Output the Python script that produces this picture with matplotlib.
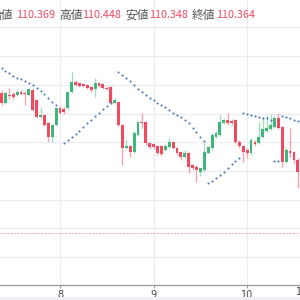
import numpy as np
import matplotlib
matplotlib.use('Agg')
import matplotlib.pyplot as plt
from matplotlib.patches import Rectangle

# hourly candles, index 0 = first visible candle, day 8 starts at index 15
opens = [110.571, 110.537, 110.564, 110.568, 110.564, 110.575, 110.571, 110.564, 110.582, 110.547,
         110.488, 110.495, 110.467, 110.418, 110.460, 110.519, 110.516, 110.519, 110.575, 110.610,
         110.606, 110.603, 110.599, 110.592, 110.585, 110.606, 110.603, 110.589, 110.592, 110.537,
         110.540, 110.460, 110.380, 110.387, 110.366, 110.425, 110.470, 110.470, 110.397, 110.394,
         110.387, 110.387, 110.373, 110.383, 110.401, 110.380, 110.366, 110.348, 110.362, 110.321,
         110.314, 110.296, 110.303, 110.362, 110.380, 110.418, 110.425, 110.467, 110.477, 110.474,
         110.477, 110.401, 110.387, 110.373, 110.362, 110.401, 110.397, 110.418, 110.439, 110.446,
         110.453, 110.484, 110.453, 110.331, 110.369, 110.366, 110.338]
closes = [110.537, 110.571, 110.561, 110.557, 110.575, 110.568, 110.568, 110.585, 110.512, 110.488,
          110.495, 110.460, 110.418, 110.460, 110.519, 110.502, 110.505, 110.575, 110.610, 110.599,
          110.596, 110.596, 110.589, 110.582, 110.606, 110.596, 110.589, 110.585, 110.537, 110.547,
          110.460, 110.380, 110.387, 110.366, 110.432, 110.470, 110.467, 110.397, 110.383, 110.383,
          110.362, 110.359, 110.387, 110.401, 110.380, 110.362, 110.348, 110.362, 110.314, 110.310,
          110.303, 110.310, 110.366, 110.383, 110.425, 110.432, 110.470, 110.477, 110.467, 110.467,
          110.401, 110.387, 110.366, 110.362, 110.408, 110.394, 110.418, 110.446, 110.450, 110.460,
          110.484, 110.450, 110.331, 110.373, 110.364, 110.338, 110.296]
highs = [110.582, 110.578, 110.589, 110.575, 110.582, 110.582, 110.578, 110.589, 110.585, 110.550,
         110.523, 110.498, 110.470, 110.463, 110.523, 110.526, 110.523, 110.578, 110.645, 110.617,
         110.610, 110.606, 110.603, 110.596, 110.624, 110.610, 110.606, 110.596, 110.596, 110.554,
         110.544, 110.463, 110.408, 110.390, 110.439, 110.474, 110.502, 110.474, 110.401, 110.397,
         110.390, 110.390, 110.394, 110.415, 110.404, 110.383, 110.369, 110.373, 110.366, 110.324,
         110.321, 110.314, 110.397, 110.387, 110.432, 110.439, 110.495, 110.484, 110.502, 110.481,
         110.481, 110.408, 110.390, 110.380, 110.415, 110.408, 110.470, 110.488, 110.495, 110.498,
         110.491, 110.502, 110.457, 110.380, 110.448, 110.369, 110.345]
lows = [110.530, 110.533, 110.550, 110.550, 110.561, 110.564, 110.530, 110.561, 110.509, 110.484,
        110.484, 110.457, 110.401, 110.401, 110.457, 110.498, 110.498, 110.512, 110.571, 110.596,
        110.592, 110.592, 110.585, 110.575, 110.557, 110.592, 110.585, 110.582, 110.533, 110.533,
        110.457, 110.321, 110.376, 110.348, 110.362, 110.422, 110.450, 110.390, 110.376, 110.376,
        110.355, 110.352, 110.369, 110.380, 110.376, 110.355, 110.338, 110.345, 110.293, 110.303,
        110.261, 110.282, 110.296, 110.359, 110.373, 110.415, 110.422, 110.463, 110.460, 110.460,
        110.394, 110.380, 110.331, 110.345, 110.355, 110.387, 110.394, 110.415, 110.436, 110.443,
        110.450, 110.446, 110.314, 110.328, 110.348, 110.328, 110.241]

nan = np.nan
sar = [110.659, 110.648, 110.641, 110.632, 110.625, 110.620, 110.613, 110.606, 110.599, 110.589,
       110.578, 110.568, 110.554, 110.540, 110.530, nan, 110.397, 110.408, 110.418, 110.429,
       110.439, 110.453, 110.467, 110.477, 110.491, 110.502, 110.516, 110.526, 110.537, nan,
       110.645, 110.634, 110.624, 110.613, 110.599, 110.585, 110.575, 110.564, 110.554, 110.547,
       110.537, 110.530, 110.523, 110.512, 110.502, 110.495, 110.488, 110.477, 110.467, 110.450,
       110.436, 110.418, 110.404, 110.258, 110.265, 110.275, 110.286, 110.296, 110.310, 110.324,
       110.334, 110.345, 110.502, 110.498, 110.495, 110.491, 110.488, 110.486, 110.483, 110.479,
       110.334, 110.334, 110.493, 110.488, 110.484, 110.479, 110.474]

day_ticks = [15, 39, 63]
day_labels = ['8', '9', '10']
last_price = 110.084

header_labels = ['始値', '高値', '安値', '終値']
header_values = ['110.369', '110.448', '110.348', '110.364']

up_body, up_wick = '#40b77a', '#a6dbbf'
dn_body, dn_wick = '#ee4b61', '#f5a5b1'

fig = plt.figure(figsize=(3, 3), dpi=100)
ax = fig.add_axes([0, 15 / 300, 1, 285 / 300])

x = np.arange(len(opens))
o = np.array(opens)
c = np.array(closes)
up = c >= o

# grid
ax.set_yticks(np.arange(109.9, 110.95, 0.1))
ax.set_xticks(day_ticks)
ax.grid(True, color='#e9ecf3', linewidth=0.8, zorder=0)
ax.set_axisbelow(True)

# wicks
ax.vlines(x[up], np.array(lows)[up], np.array(highs)[up], color=up_wick, linewidth=1.0, zorder=2)
ax.vlines(x[~up], np.array(lows)[~up], np.array(highs)[~up], color=dn_wick, linewidth=1.0, zorder=2)

# bodies
bottoms = np.minimum(o, c)
heights = np.maximum(np.abs(c - o), 0.0025)
ax.bar(x[up], heights[up], bottom=bottoms[up], width=0.72, color=up_body, linewidth=0, zorder=3)
ax.bar(x[~up], heights[~up], bottom=bottoms[~up], width=0.72, color=dn_body, linewidth=0, zorder=3)

# parabolic SAR dots
ax.plot(x, sar, linestyle='none', marker='o', markersize=1.5, color='#4a78b8',
        markeredgewidth=0, zorder=4)

# last price line
ax.axhline(last_price, color='#f5a3ad', linewidth=0.7, linestyle=(0, (2, 1.5)), zorder=1)

ax.set_xlim(-0.385, 76.54)
ax.set_ylim(109.9024, 110.8955)

for s in ['top', 'right', 'left']:
    ax.spines[s].set_visible(False)
ax.spines['bottom'].set_color('#a0a0a0')
ax.spines['bottom'].set_linewidth(1.0)
ax.tick_params(axis='y', left=False, labelleft=False)
ax.tick_params(axis='x', length=2, color='#a0a0a0', labelsize=7, labelcolor='#444444', pad=1.5)
ax.set_xticklabels(day_labels)

# next (clipped) day label on the right edge
fig.text(296 / 300, (300 - 292) / 300, '11', fontsize=7, color='#444444', ha='left', va='center')

# light strip at the very bottom
fig.patches.append(Rectangle((0, 0), 1, 3 / 300, transform=fig.transFigure,
                             facecolor='#eff0f3', edgecolor='none'))

# OHLC header
label_x = [-11, 59, 125, 192]
value_x = [16, 82, 149, 216]
for lx, vx, lab, val in zip(label_x, value_x, header_labels, header_values):
    fig.text(lx / 300, 1 - 15 / 300, lab, fontsize=8.5, color='#555555',
             family=['Noto Sans CJK JP', 'DejaVu Sans'], ha='left', va='center')
    fig.text(vx / 300, 1 - 15 / 300, val, fontsize=7.8, color='#ee4b61',
             family=['Noto Sans CJK JP', 'DejaVu Sans'], ha='left', va='center')

fig.savefig('out.png', dpi=100)
